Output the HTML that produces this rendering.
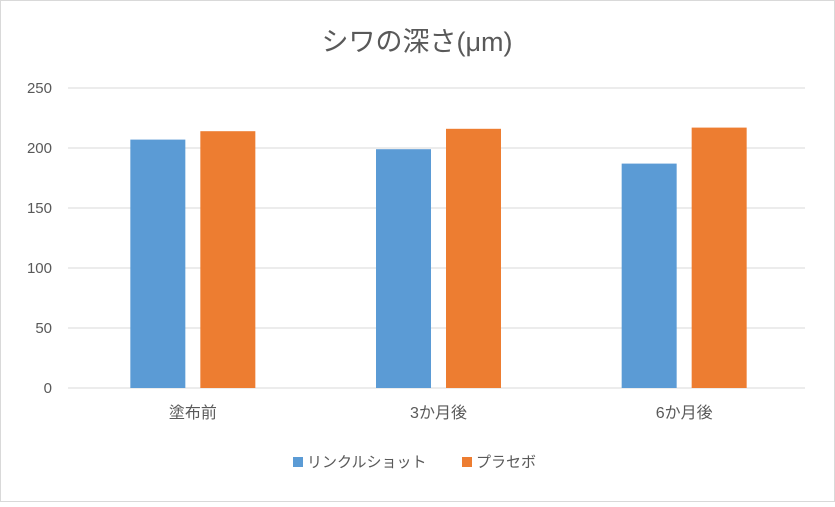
<!DOCTYPE html>
<html><head><meta charset="utf-8"><style>
body{margin:0;background:#fff;}
svg text{font-family:"Liberation Sans","Noto Sans CJK JP",sans-serif;}
</style></head><body>
<svg id="chart" width="835" height="502" xmlns="http://www.w3.org/2000/svg">
<rect x="0.5" y="0.5" width="834" height="501" fill="#fff" stroke="#d9d9d9"/>
<text x="417" y="51" text-anchor="middle" font-size="27" fill="#595959">シワの深さ(μm)</text>
<g id="grid"></g><g id="bars"></g><g id="labels"></g>
<g>
<rect x="293" y="457" width="10" height="10" fill="#5b9bd5"/>
<text x="307" y="467" font-size="15" fill="#595959">リンクルショット</text>
<rect x="462" y="457" width="10" height="10" fill="#ed7d31"/>
<text x="476" y="467" font-size="15" fill="#595959">プラセボ</text>
</g>
</svg>
<script>
const categories=["塗布前","3か月後","6か月後"];
const wrinkleShot=[207,199,187];
const placebo=[214,216,217];
const yTicks=[0,50,100,150,200,250];
const NS="http://www.w3.org/2000/svg";
const x0=70,x1=807,yb=388,yt=88,ymax=250;
const y=v=>yb-(v/ymax)*(yb-yt);
const gw=(x1-x0)/categories.length;
const cx=i=>x0+gw*(i+0.5);
function mk(t,a,p){const e=document.createElementNS(NS,t);for(const k in a)e.setAttribute(k,a[k]);p.appendChild(e);return e;}
const grid=document.getElementById('grid'),bars=document.getElementById('bars'),labels=document.getElementById('labels');
yTicks.forEach(v=>{
 const l=mk('line',{x1:68,x2:805,y1:y(v),y2:y(v),stroke:'#d9d9d9','stroke-width':1},grid);
 
 
 const t=mk('text',{x:52,y:y(v)+5,'text-anchor':'end','font-size':15,fill:'#595959'},labels);
 t.textContent=v;
 
 
});
const bw=55,gap=15;
categories.forEach((c,i)=>{
 const b1=mk('rect',{x:cx(i)-gap/2-bw,y:y(wrinkleShot[i]),width:bw,height:yb-y(wrinkleShot[i]),fill:'#5b9bd5'},bars);
 
 
 const b2=mk('rect',{x:cx(i)+gap/2,y:y(placebo[i]),width:bw,height:yb-y(placebo[i]),fill:'#ed7d31'},bars);
 
 
 const t=mk('text',{x:cx(i),y:418,'text-anchor':'middle','font-size':16,fill:'#595959'},labels);
 t.textContent=c;
 
 
});
</script>
</body></html>
